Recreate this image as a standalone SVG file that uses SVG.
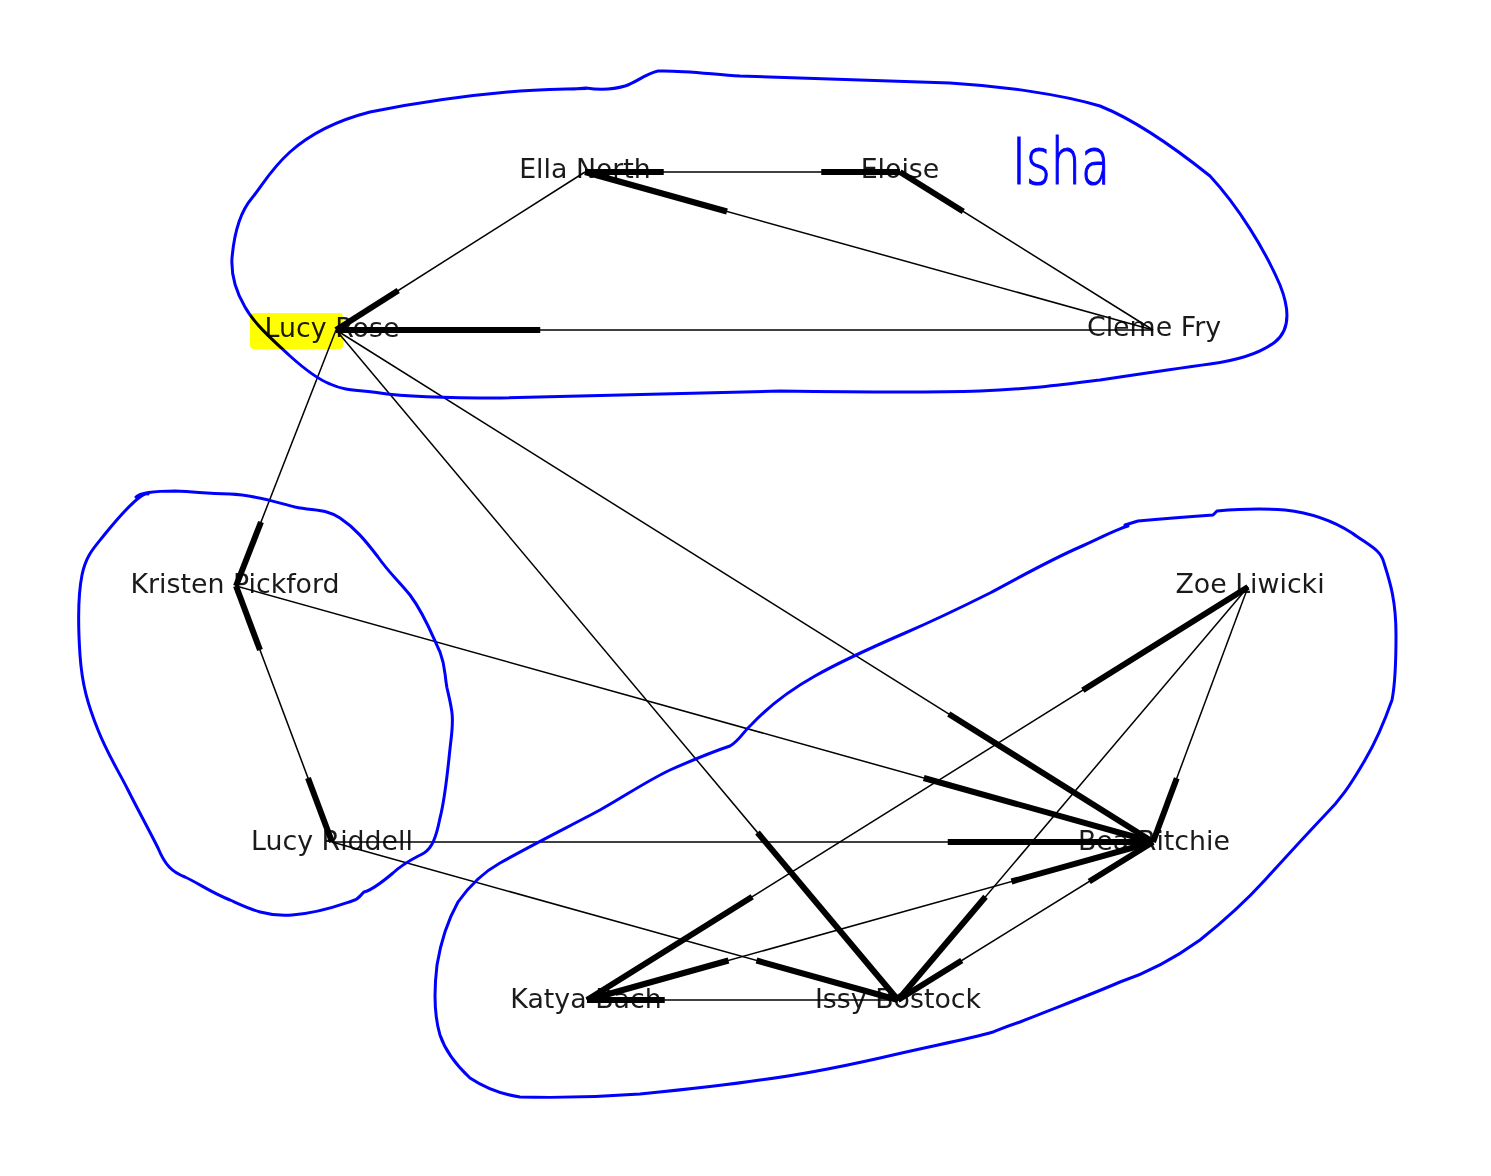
<svg xmlns="http://www.w3.org/2000/svg" width="1491" height="1176" viewBox="0 0 1491 1176">
<style>
.lbl{font-family:"DejaVu Sans","Noto Sans",sans-serif;font-size:26.8px;fill:#1a1a1a;text-anchor:middle}
.thin{stroke:#000;stroke-width:1.5;fill:none}
.thick{stroke:#000;stroke-width:6;fill:none;stroke-linecap:butt}
.loop{stroke:#0000ff;stroke-width:3;fill:none;stroke-linejoin:round;stroke-linecap:round}
</style>
<rect width="1491" height="1176" fill="#fff"/>
<g id="nodes">
<g id="n-lucy-rose"><text class="lbl" x="332" y="337">Lucy Rose</text></g>
<g id="n-ella-north"><text class="lbl" x="585" y="178">Ella North</text></g>
<g id="n-eloise"><text class="lbl" x="900" y="178">Eloise</text></g>
<g id="n-cleme-fry"><text class="lbl" x="1154" y="336">Cleme Fry</text></g>
<g id="n-kristen"><text class="lbl" x="235" y="593">Kristen Pickford</text></g>
<g id="n-lucy-riddell"><text class="lbl" x="332" y="850">Lucy Riddell</text></g>
<g id="n-zoe"><text class="lbl" x="1250" y="593">Zoe Liwicki</text></g>
<g id="n-bea"><text class="lbl" x="1154" y="850">Bea Ritchie</text></g>
<g id="n-katya"><text class="lbl" x="586" y="1008">Katya Bach</text></g>
<g id="n-issy"><text class="lbl" x="898" y="1008">Issy Bostock</text></g>
</g>
<g id="connectors">
<line class="thin" x1="585" y1="172" x2="900" y2="172"/>
<line class="thin" x1="585" y1="172" x2="1153" y2="330"/>
<line class="thin" x1="900" y1="172" x2="1153" y2="330"/>
<line class="thin" x1="585" y1="172" x2="336" y2="330"/>
<line class="thin" x1="336" y1="330" x2="1153" y2="330"/>
<line class="thin" x1="336" y1="330" x2="236" y2="586"/>
<line class="thin" x1="336" y1="330" x2="898" y2="1000"/>
<line class="thin" x1="336" y1="330" x2="1153" y2="842"/>
<line class="thin" x1="236" y1="586" x2="332" y2="842"/>
<line class="thin" x1="236" y1="586" x2="1153" y2="842"/>
<line class="thin" x1="332" y1="842" x2="1153" y2="842"/>
<line class="thin" x1="332" y1="842" x2="898" y2="1000"/>
<line class="thin" x1="1248" y1="587" x2="1153" y2="842"/>
<line class="thin" x1="1248" y1="587" x2="587" y2="1000"/>
<line class="thin" x1="1248" y1="587" x2="898" y2="1000"/>
<line class="thin" x1="1153" y1="842" x2="587" y2="1000"/>
<line class="thin" x1="1153" y1="842" x2="898" y2="1000"/>
<line class="thin" x1="587" y1="1000" x2="898" y2="1000"/>
<line class="thick" x1="585" y1="172" x2="663.75" y2="172"/>
<line class="thick" x1="900" y1="172" x2="821.25" y2="172"/>
<line class="thick" x1="585" y1="172" x2="727" y2="211.5"/>
<line class="thick" x1="900" y1="172" x2="963.25" y2="211.5"/>
<line class="thick" x1="336" y1="330" x2="398.25" y2="290.5"/>
<line class="thick" x1="336" y1="330" x2="540.25" y2="330"/>
<line class="thick" x1="236" y1="586" x2="261" y2="522"/>
<line class="thick" x1="898" y1="1000" x2="757.5" y2="832.5"/>
<line class="thick" x1="1153" y1="842" x2="948.75" y2="714"/>
<line class="thick" x1="332" y1="842" x2="308" y2="778"/>
<line class="thick" x1="236" y1="586" x2="260" y2="650"/>
<line class="thick" x1="1153" y1="842" x2="923.75" y2="778"/>
<line class="thick" x1="1153" y1="842" x2="947.75" y2="842"/>
<line class="thick" x1="898" y1="1000" x2="756.5" y2="960.5"/>
<line class="thick" x1="1153" y1="842" x2="1176.75" y2="778.25"/>
<line class="thick" x1="1248" y1="587" x2="1082.75" y2="690.25"/>
<line class="thick" x1="587" y1="1000" x2="752.25" y2="896.75"/>
<line class="thick" x1="898" y1="1000" x2="985.5" y2="896.75"/>
<line class="thick" x1="1153" y1="842" x2="1011.5" y2="881.5"/>
<line class="thick" x1="587" y1="1000" x2="728.5" y2="960.5"/>
<line class="thick" x1="1153" y1="842" x2="1089.25" y2="881.5"/>
<line class="thick" x1="898" y1="1000" x2="961.75" y2="960.5"/>
<line class="thick" x1="587" y1="1000" x2="664.75" y2="1000"/>
</g>
<g id="annotations">
<path class="loop" d="M574,89 L586,88 C600,90 615,89 625,86 C637,82 645,74 658,71 C680,70 710,74 740,76 C800,78 870,80 950,83 C1000,86 1060,94 1100,106 C1140,122 1180,152 1210,176 C1238,206 1265,250 1280,285 C1290,310 1290,330 1275,342 C1262,352 1240,360 1210,364 C1180,368 1140,374 1100,380 C1060,385 1030,389 980,391 C920,393 850,392 780,391 C700,393 600,396 500,398 C440,398 400,396 380,393 C360,390 345,391 330,384 C315,378 300,365 290,356 C275,342 255,325 245,307 C235,290 231,275 232,258 C234,235 240,212 252,198 C262,186 270,170 290,152 C310,134 335,121 370,112 C420,102 470,95 520,91 C545,89.5 565,89 586,88.5"/>
<path class="loop" d="M136,497 C140,493 150,491 175,491 C200,492 205,494 230,494 C255,495 275,502 295,507 C315,511 327,509 340,518 C355,528 365,540 378,557 C390,574 398,580 410,595 C425,615 432,635 440,652 C446,668 444,672 447,688 C452,710 454,715 451,740 C448,765 446,795 440,818 C436,838 432,848 424,853 C413,859 405,862 393,873 C380,884 372,890 364,892 C360,895 360,899 352,901 C340,905 320,913 292,915 C265,917 248,908 230,900 C210,892 200,884 185,877 C172,872 165,865 158,848 C148,828 138,810 128,790 C118,770 108,755 98,730 C88,705 82,685 80,655 C78,625 78,595 82,575 C86,555 94,548 105,534 C118,518 128,506 140,497 C144,494 147,493 148,494"/>
<path class="loop" d="M1125,525 L1138,521 C1160,519 1185,517 1213,515 L1217,511 C1240,509 1260,508 1285,510 C1312,513 1335,522 1352,533 C1370,546 1381,550 1384,563 C1390,582 1396,600 1396,635 C1396,665 1395,685 1392,700 C1385,720 1378,738 1365,760 C1350,786 1340,800 1325,815 C1305,836 1285,858 1265,880 C1245,902 1225,920 1200,940 C1175,958 1150,972 1120,982 C1090,995 1060,1006 1020,1022 C1005,1027 998,1030 993,1032 C965,1040 930,1046 880,1058 C840,1067 800,1075 760,1080 C720,1086 680,1090 640,1094 C600,1097 560,1098 520,1097 C500,1094 485,1088 470,1078 C455,1064 445,1050 440,1035 C434,1015 434,990 437,965 C441,940 448,920 458,902 C470,885 482,873 500,863 C530,846 570,826 600,810 C625,796 645,782 670,770 C695,759 718,750 730,746 C740,740 742,733 752,724 C770,705 790,690 815,676 C845,659 875,646 905,633 C935,620 960,608 990,593 C1020,577 1050,560 1080,547 C1100,538 1115,530 1128,526"/>
<text x="1012" y="184" font-family="DejaVu Sans, sans-serif" font-size="64" font-weight="200" fill="#0000ff" stroke="#0000ff" stroke-width="1.2" textLength="98" lengthAdjust="spacingAndGlyphs">Isha</text>
<rect x="250" y="313" width="93" height="36" rx="4" fill="#ffff00" style="mix-blend-mode:multiply"/>
</g>
</svg>
